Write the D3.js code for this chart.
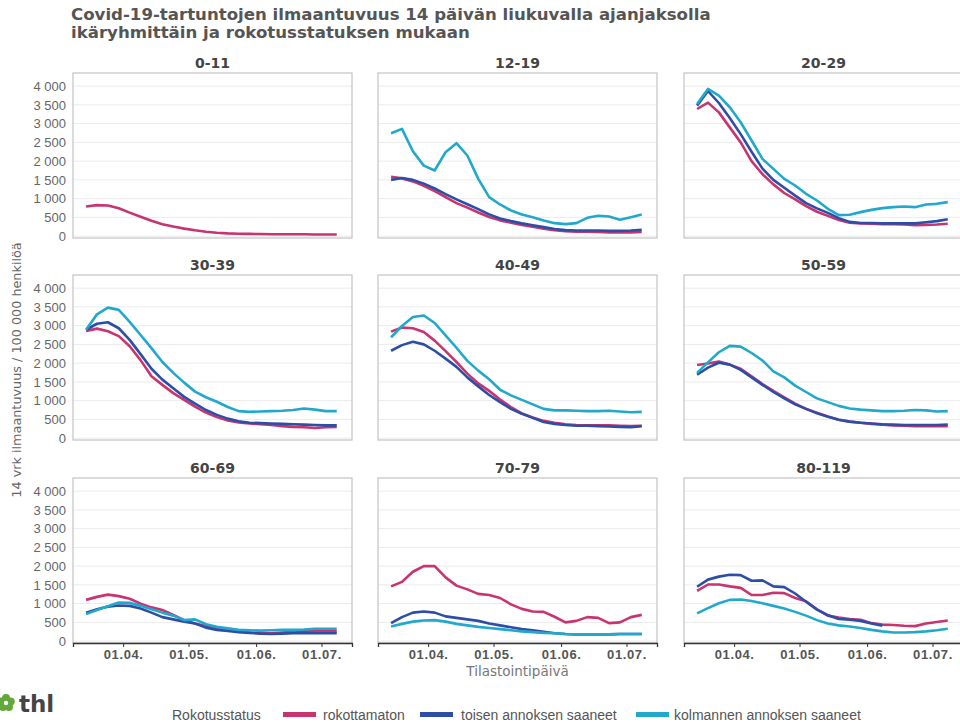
<!DOCTYPE html>
<html>
<head>
<meta charset="utf-8">
<script src="https://cdn.jsdelivr.net/npm/d3@7/dist/d3.min.js"></script>
<style>
  body { margin: 0; background: #fff; }
  svg { display: block; font-family: "DejaVu Sans", sans-serif; }
</style>
</head>
<body>
<script>
// statistics dates, every 5 days
var dates = ['2022-03-15', '2022-03-20', '2022-03-25', '2022-03-30', '2022-04-04', '2022-04-09',
  '2022-04-14', '2022-04-19', '2022-04-24', '2022-04-29', '2022-05-04', '2022-05-09',
  '2022-05-14', '2022-05-19', '2022-05-24', '2022-05-29', '2022-06-03', '2022-06-08',
  '2022-06-13', '2022-06-18', '2022-06-23', '2022-06-28', '2022-07-03', '2022-07-08'];

var ageGroups = ['0-11', '12-19', '20-29', '30-39', '40-49', '50-59', '60-69', '70-79', '80-119'];

var seriesNames = ['rokottamaton', 'toisen annoksen saaneet', 'kolmannen annoksen saaneet'];

var yTicks = [0, 500, 1000, 1500, 2000, 2500, 3000, 3500, 4000];

var unvaccinated = {
  '0-11': [790, 827, 818, 745, 627, 518, 409, 318, 255, 200, 155, 118, 91, 73, 64, 60, 55, 52, 50, 50, 48, 45, 45, 45],
  '12-19': [1580, 1540, 1460, 1340, 1200, 1040, 880, 760, 630, 510, 420, 360, 300, 250, 200, 160, 130, 120, 120, 110, 100, 100, 100, 110],
  '20-29': [3390, 3560, 3300, 2900, 2500, 2000, 1650, 1380, 1150, 980, 800, 650, 540, 430, 360, 340, 330, 320, 320, 310, 290, 300, 310, 330],
  '30-39': [2860, 2920, 2850, 2720, 2450, 2080, 1650, 1420, 1200, 1020, 840, 680, 560, 470, 420, 390, 370, 350, 320, 300, 290, 270, 290, 300],
  '40-49': [2840, 2950, 2930, 2830, 2600, 2320, 2030, 1720, 1460, 1260, 1030, 830, 660, 550, 460, 410, 370, 350, 340, 340, 340, 330, 320, 330],
  '50-59': [1950, 1990, 2040, 1960, 1850, 1650, 1440, 1260, 1090, 920, 780, 680, 580, 490, 440, 410, 380, 360, 340, 330, 320, 320, 320, 320],
  '60-69': [1100, 1180, 1240, 1200, 1130, 1000, 900, 830, 700, 560, 470, 400, 340, 300, 270, 230, 210, 210, 230, 250, 260, 260, 260, 260],
  '70-79': [1460, 1580, 1850, 2000, 2000, 1700, 1480, 1380, 1260, 1230, 1150, 980, 860, 790, 780, 650, 500, 540, 640, 620, 480, 500, 640, 700],
  '80-119': [1340, 1510, 1510, 1460, 1420, 1230, 1230, 1290, 1280, 1150, 1060, 850, 680, 630, 590, 570, 480, 440, 430, 410, 400, 470, 510, 550]
};

var secondDose = {
  '0-11': null,
  '12-19': [1500, 1550, 1500, 1400, 1270, 1120, 980, 850, 720, 580, 470, 400, 340, 290, 240, 190, 160, 150, 150, 150, 140, 140, 150, 170],
  '20-29': [3480, 3870, 3550, 3150, 2720, 2250, 1800, 1500, 1290, 1080, 880, 740, 620, 480, 380, 350, 350, 340, 340, 340, 340, 370, 400, 450],
  '30-39': [2890, 3050, 3090, 2930, 2620, 2240, 1850, 1560, 1330, 1100, 920, 750, 620, 520, 450, 410, 400, 390, 380, 370, 360, 350, 340, 340],
  '40-49': [2330, 2480, 2570, 2500, 2330, 2120, 1900, 1620, 1380, 1150, 960, 780, 650, 540, 430, 380, 350, 330, 330, 320, 310, 300, 290, 320],
  '50-59': [1690, 1880, 2010, 1960, 1820, 1620, 1420, 1230, 1060, 900, 780, 660, 570, 490, 440, 410, 390, 370, 360, 350, 350, 350, 350, 360],
  '60-69': [760, 850, 920, 950, 940, 870, 760, 640, 580, 520, 470, 360, 300, 270, 240, 220, 200, 190, 200, 210, 220, 210, 210, 210],
  '70-79': [480, 640, 760, 790, 760, 660, 620, 580, 540, 470, 420, 370, 320, 290, 250, 210, 190, 180, 180, 180, 180, 190, 190, 190],
  '80-119': [1450, 1640, 1720, 1770, 1760, 1610, 1620, 1460, 1440, 1270, 1050, 840, 690, 590, 570, 540, 470, 410, null, null, null, null, null, null]
};

var thirdDose = {
  '0-11': null,
  '12-19': [2744, 2860, 2264, 1880, 1750, 2238, 2478, 2150, 1527, 1039, 844, 684, 577, 506, 417, 346, 320, 346, 488, 542, 524, 435, 506, 577],
  '20-29': [3525, 3925, 3747, 3437, 3037, 2549, 2060, 1794, 1527, 1350, 1128, 950, 728, 560, 568, 640, 700, 746, 773, 790, 773, 844, 861, 906],
  '30-39': [2890, 3300, 3480, 3420, 3100, 2750, 2400, 2030, 1740, 1480, 1240, 1090, 970, 830, 720, 700, 710, 720, 730, 750, 790, 760, 720, 720],
  '40-49': [2690, 2990, 3230, 3270, 3070, 2740, 2410, 2060, 1800, 1570, 1290, 1140, 1020, 900, 780, 740, 740, 730, 720, 720, 730, 710, 690, 700],
  '50-59': [1740, 2020, 2290, 2460, 2440, 2270, 2070, 1780, 1620, 1400, 1230, 1060, 960, 860, 790, 760, 740, 720, 720, 730, 750, 740, 710, 720],
  '60-69': [720, 830, 930, 1030, 1020, 940, 850, 760, 680, 560, 580, 450, 380, 340, 300, 290, 280, 290, 300, 300, 310, 330, 330, 330],
  '70-79': [390, 460, 520, 550, 560, 520, 460, 420, 380, 350, 320, 290, 260, 240, 220, 210, 190, 180, 180, 180, 180, 190, 190, 190],
  '80-119': [740, 880, 1010, 1100, 1110, 1070, 1010, 940, 870, 780, 680, 560, 470, 420, 390, 350, 300, 260, 230, 230, 240, 260, 290, 330]
};

var colors = ['#c8346f', '#2c4ea6', '#22a8cb'];

var width = 960,
    height = 726;
var panelW = 279,
    panelH = 165;
var colX = [73, 378, 684],
    rowY = [73, 275, 478];

var parseDate = d3.timeParse('%Y-%m-%d');
var fmtNum = d3.formatLocale({decimal: ',', thousands: '\u00a0', grouping: [3], currency: ['', '']}).format(',d');

var x = d3.scaleTime()
  .domain([parseDate('2022-03-09'), parseDate('2022-07-15')])
  .range([0, panelW]);
var y = d3.scaleLinear()
  .domain([-50, 4350])
  .range([panelH, 0]);

var svg = d3.select('body')
  .append('svg')
  .attr('width', width)
  .attr('height', height);

// title
var title = svg.append('text')
  .attr('fill', '#555')
  .style('font-size', '16.6px')
  .style('font-weight', 'bold');
title.append('tspan').attr('x', 71).attr('y', 20)
  .text('Covid-19-tartuntojen ilmaantuvuus 14 päivän liukuvalla ajanjaksolla');
title.append('tspan').attr('x', 71).attr('y', 38)
  .text('ikäryhmittäin ja rokotusstatuksen mukaan');

var line = d3.line()
  .defined(function(d) { return d.v != null; })
  .x(function(d) { return x(d.date); })
  .y(function(d) { return y(d.v); });

ageGroups.forEach(function(group, i) {
  var col = i % 3,
      row = Math.floor(i / 3);
  var g = svg.append('g')
    .attr('transform', 'translate(' + colX[col] + ',' + rowY[row] + ')');

  // grid
  g.selectAll('line.grid')
    .data(yTicks)
    .enter()
    .append('line')
    .attr('class', 'grid')
    .attr('x1', 0)
    .attr('x2', panelW)
    .attr('y1', function(d) { return y(d); })
    .attr('y2', function(d) { return y(d); })
    .attr('stroke', '#ebebeb')
    .attr('stroke-width', 1);

  g.append('rect')
    .attr('width', panelW)
    .attr('height', panelH)
    .attr('fill', 'none')
    .attr('stroke', '#c4c4c4')
    .attr('stroke-width', 1.2);

  g.append('text')
    .attr('x', panelW / 2)
    .attr('y', -5)
    .attr('text-anchor', 'middle')
    .attr('fill', '#444')
    .style('font-size', '14px')
    .style('font-weight', 'bold')
    .text(group);

  [unvaccinated, secondDose, thirdDose].forEach(function(src, s) {
    var vals = src[group];
    if (!vals) return;
    var pts = dates.map(function(dt, k) {
      return {date: parseDate(dt), v: vals[k]};
    });
    g.append('path')
      .datum(pts)
      .attr('fill', 'none')
      .attr('stroke', colors[s])
      .attr('stroke-width', 2.6)
      .attr('stroke-linejoin', 'round')
      .attr('d', line);
  });

  if (col == 0) {
    var ya = g.append('g')
      .call(d3.axisLeft(y).tickValues(yTicks).tickFormat(fmtNum).tickSize(0).tickPadding(7));
    ya.select('.domain').remove();
    ya.selectAll('text')
      .attr('fill', '#666')
      .style('font-size', '13px');
  }

  if (row == 2) {
    var xa = g.append('g')
      .attr('transform', 'translate(0,' + panelH + ')')
      .call(d3.axisBottom(x).ticks(d3.timeMonth.every(1)).tickFormat(d3.timeFormat('%d.%m.')).tickSize(4).tickPadding(3));
    xa.select('.domain').attr('stroke', '#333').attr('stroke-width', 1.3);
    xa.selectAll('line').attr('stroke', '#333');
    xa.selectAll('text')
      .attr('fill', '#555')
      .style('font-size', '13px')
      .style('letter-spacing', '0.6px')
      .style('font-weight', 'bold');
  }
});

// axis titles
svg.append('text')
  .attr('transform', 'translate(21,370) rotate(-90)')
  .attr('text-anchor', 'middle')
  .attr('fill', '#666')
  .style('font-size', '12.8px')
  .text('14 vrk ilmaantuvuus / 100 000 henkilöä');

svg.append('text')
  .attr('x', colX[1] + panelW / 2)
  .attr('y', 676)
  .attr('text-anchor', 'middle')
  .attr('fill', '#777')
  .style('font-size', '13.5px')
  .text('Tilastointipäivä');

// legend
var legend = svg.append('g')
  .style('font-family', '"Liberation Sans Narrow", "Liberation Sans", sans-serif')
  .style('font-size', '14px')
  .attr('fill', '#555');
legend.append('text')
  .attr('x', 172)
  .attr('y', 720)
  .text('Rokotusstatus');
var swatchX = [283, 420, 636],
    labelX = [323, 461, 674];
seriesNames.forEach(function(name, s) {
  legend.append('rect')
    .attr('x', swatchX[s])
    .attr('y', 712)
    .attr('width', 33)
    .attr('height', 5)
    .attr('fill', colors[s]);
  legend.append('text')
    .attr('x', labelX[s])
    .attr('y', 720)
    .text(name);
});

// thl logo
var logo = svg.append('g').attr('transform', 'translate(6,703)');
d3.range(5).forEach(function(k) {
  var a = k * 2 * Math.PI / 5 - Math.PI / 2;
  logo.append('circle')
    .attr('cx', Math.cos(a) * 5)
    .attr('cy', Math.sin(a) * 5)
    .attr('r', 4)
    .attr('fill', '#63a83a');
});
logo.append('circle').attr('r', 2.2).attr('fill', '#fff');
svg.append('text')
  .attr('x', 19)
  .attr('y', 712)
  .attr('fill', '#444')
  .style('font-size', '23px')
  .style('font-weight', 'bold')
  .text('thl');
</script>
</body>
</html>
